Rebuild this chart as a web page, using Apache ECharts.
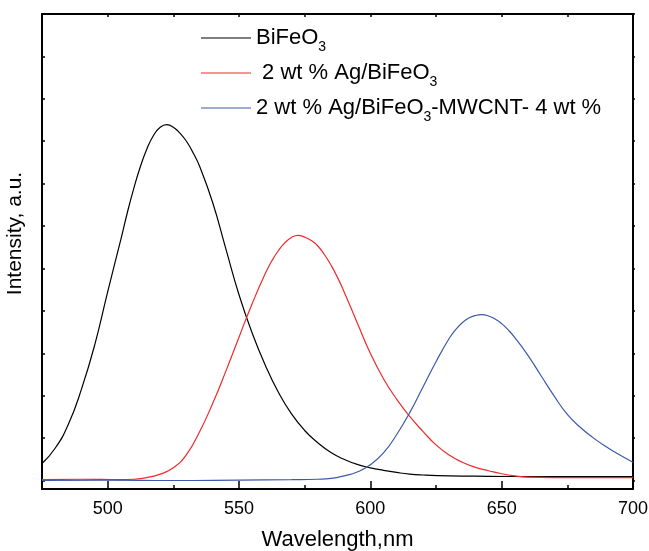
<!DOCTYPE html>
<html>
<head>
<meta charset="utf-8">
<script src="https://cdn.jsdelivr.net/npm/echarts@6/dist/echarts.min.js"></script>
<style>
  html, body { margin: 0; padding: 0; background: #fff; }
  #chart { width: 649px; height: 551px; }
</style>
</head>
<body>
<div id="chart"></div>
<script>
// wavelength (nm) / intensity (a.u.)
const blackWl = [475, 480, 485, 490, 495, 500, 505, 507.5, 510, 512.5, 515, 517.5, 520, 522.5, 525, 527.5, 530, 532.5, 535, 540, 545, 550, 555, 560, 565, 570, 575, 580, 585, 590, 595, 600, 605, 610, 615, 620, 630, 645, 670, 700];
const blackInt = [0.40, 0.76, 1.32, 2.15, 3.18, 4.45, 5.68, 6.32, 6.90, 7.41, 7.83, 8.14, 8.33, 8.39, 8.33, 8.19, 8.00, 7.73, 7.41, 6.55, 5.46, 4.38, 3.48, 2.72, 2.08, 1.57, 1.18, 0.89, 0.66, 0.50, 0.38, 0.30, 0.24, 0.19, 0.15, 0.13, 0.11, 0.10, 0.09, 0.09];

const redWl = [475, 490, 505, 510, 515, 520, 525, 530, 535, 540, 545, 550, 555, 560, 562.5, 565, 567.5, 570, 572.5, 575, 577.5, 580, 582.5, 585, 587.5, 590, 595, 600, 605, 610, 615, 620, 625, 630, 635, 640, 645, 650, 655, 660, 670, 700];
const redInt = [0.02, 0.03, 0.02, 0.03, 0.07, 0.15, 0.30, 0.61, 1.15, 1.82, 2.58, 3.38, 4.17, 4.88, 5.18, 5.42, 5.61, 5.73, 5.78, 5.74, 5.66, 5.53, 5.33, 5.08, 4.79, 4.45, 3.72, 3.00, 2.40, 1.92, 1.51, 1.16, 0.84, 0.60, 0.43, 0.31, 0.23, 0.16, 0.11, 0.08, 0.07, 0.07];

const blueWl = [475, 500, 525, 550, 570, 580, 585, 590, 595, 600, 605, 610, 615, 620, 625, 630, 632.5, 635, 637.5, 640, 642.5, 645, 647.5, 650, 652.5, 655, 660, 665, 670, 675, 680, 685, 690, 695, 700];
const blueInt = [0.00, 0.01, 0.00, 0.01, 0.02, 0.03, 0.05, 0.11, 0.20, 0.37, 0.65, 1.08, 1.60, 2.20, 2.80, 3.35, 3.56, 3.72, 3.83, 3.89, 3.91, 3.88, 3.81, 3.70, 3.55, 3.37, 2.95, 2.47, 1.99, 1.56, 1.25, 1.00, 0.79, 0.60, 0.43];

const seriesNames = ['BiFeO3', ' 2 wt % Ag/BiFeO3', '2 wt % Ag/BiFeO3-MWCNT- 4 wt %'];
const seriesColors = ['#000000', '#ee2a2a', '#3b5aa8'];

const xLabels = [500, 550, 600, 650, 700];
const xMajorTicks = [500, 550, 600, 650, 700];
const yTicks = [0, 1, 2, 3, 4, 5, 6, 7, 8, 9, 10, 11];

const FONT = 'Liberation Sans, Arial, sans-serif';

function zip(xs, ys) {
  return xs.map((x, i) => [x, ys[i]]);
}

// turn "BiFeO3" into rich text with a subscript 3
function legendText(name) {
  const parts = name.split('BiFeO3');
  let s = '';
  parts.forEach((p, i) => {
    if (p) s += '{n|' + p + '}';
    if (i < parts.length - 1) s += '{n|BiFeO}{s|3}';
  });
  return s;
}

const chart = echarts.init(document.getElementById('chart'));

const legendTops = [27, 62, 97];
const legends = seriesNames.map((name, i) => ({
  data: [{ name: name, icon: 'rect' }],
  left: 201,
  top: legendTops[i],
  padding: 0,
  itemWidth: 50,
  itemHeight: 1.2,
  selectedMode: false,
  formatter: legendText,
  textStyle: {
    rich: {
      n: { fontSize: 22, fontFamily: FONT, color: '#000', lineHeight: 22 },
      s: { fontSize: 14, fontFamily: FONT, color: '#000', padding: [18, 0, 0, 0] }
    }
  }
}));

const axisLineStyle = { color: '#000', width: 2 };

chart.setOption({
  animation: false,
  backgroundColor: '#fff',
  legend: legends,
  grid: { left: 42, right: 16, top: 14, bottom: 62, containLabel: false, outerBoundsMode: 'none' },
  xAxis: [
    {
      type: 'value', position: 'bottom', min: 475, max: 700, interval: 25,
      axisLine: { onZero: false, lineStyle: axisLineStyle },
      axisTick: { inside: true, length: 4, lineStyle: { color: '#000', width: 1.5 } },
      axisLabel: { customValues: xLabels, fontSize: 18, fontFamily: FONT, color: '#000', margin: 11 },
      splitLine: { show: false },
      name: 'Wavelength,nm', nameLocation: 'middle', nameGap: 40,
      nameTextStyle: { fontSize: 22, fontFamily: FONT, color: '#000' }
    },
    {
      type: 'value', position: 'bottom', min: 475, max: 700,
      axisLine: { show: false, onZero: false },
      axisTick: { inside: true, length: 8, customValues: xMajorTicks, lineStyle: { color: '#000', width: 1.5 } },
      axisLabel: { show: false },
      splitLine: { show: false }
    },
    {
      type: 'value', position: 'top', min: 475, max: 700, interval: 25,
      axisLine: { onZero: false, lineStyle: axisLineStyle },
      axisTick: { inside: true, length: 3, lineStyle: { color: '#000', width: 1.5 } },
      axisLabel: { show: false },
      splitLine: { show: false }
    }
  ],
  yAxis: [
    {
      type: 'value', position: 'left', min: -0.2, max: 11,
      axisLine: { show: true, onZero: false, lineStyle: axisLineStyle },
      axisTick: { show: true, inside: true, length: 3, customValues: yTicks, lineStyle: { color: '#000', width: 1.5 } },
      axisLabel: { show: false },
      splitLine: { show: false },
      name: 'Intensity, a.u.', nameLocation: 'middle', nameGap: 16,
      nameTextStyle: { fontSize: 21, fontFamily: FONT, color: '#000', padding: [0, 0, 0, 36] }
    },
    {
      type: 'value', position: 'right', min: -0.2, max: 11,
      axisLine: { show: true, onZero: false, lineStyle: axisLineStyle },
      axisTick: { show: true, inside: false, length: 2, customValues: yTicks, lineStyle: { color: '#000', width: 1.5 } },
      axisLabel: { show: false },
      splitLine: { show: false }
    }
  ],
  series: [
    { name: seriesNames[0], data: zip(blackWl, blackInt), color: seriesColors[0] },
    { name: seriesNames[1], data: zip(redWl, redInt), color: seriesColors[1] },
    { name: seriesNames[2], data: zip(blueWl, blueInt), color: seriesColors[2] }
  ].map(s => Object.assign({
    type: 'line',
    xAxisIndex: 0,
    yAxisIndex: 0,
    symbol: 'none',
    smooth: true,
    lineStyle: { width: 1.2 }
  }, s))
});

window.addEventListener('resize', () => chart.resize());
</script>
</body>
</html>
